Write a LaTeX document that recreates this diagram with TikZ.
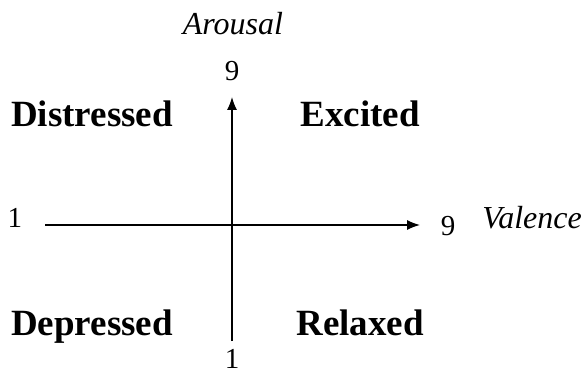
\documentclass[tikz,border=0pt]{standalone}
\usepackage{fontspec}
\setmainfont{Liberation Serif}
\usetikzlibrary{arrows.meta, positioning}

\begin{document}
\begin{tikzpicture}[
  x=1pt, y=-1pt,
  font=\fontsize{26}{30}\selectfont,
  quad/.style={font=\fontsize{37}{40}\selectfont\bfseries, anchor=base},
  tick/.style={font=\fontsize{29}{32}\selectfont, anchor=center},
  axislabel/.style={font=\fontsize{32}{36}\selectfont\itshape, anchor=base},
  arrow/.style={-{Latex[length=13pt, width=10pt]}, line width=1.3pt}
]
  \useasboundingbox (0,0) rectangle (583,374);

  % axes
  \coordinate (vbot) at (232,341);
  \coordinate (vtop) at (232,97);
  \coordinate (hleft) at (45,225);
  \coordinate (hright) at (420,225);
  \draw[arrow] (vbot) -- (vtop);
  \draw[arrow] (hleft) -- (hright);

  % scale ends
  \node[tick] (ytop) at (232,71) {9};
  \node[tick] (ybot) at (232,359) {1};
  \node[tick] (xleft) at (15,218) {1};
  \node[tick] (xright) at (448,226) {9};

  \node[axislabel] (arousal) at (233,35) {Arousal};
  \node[axislabel] (valence) at (532,228) {Valence};

  % quadrants
  \node[quad] (distressed) at (92,127) {Distressed};
  \node[quad] (excited) at (360,127) {Excited};
  \node[quad] (depressed) at (92,335) {Depressed};
  \node[quad] (relaxed) at (360,335) {Relaxed};
\end{tikzpicture}
\end{document}
